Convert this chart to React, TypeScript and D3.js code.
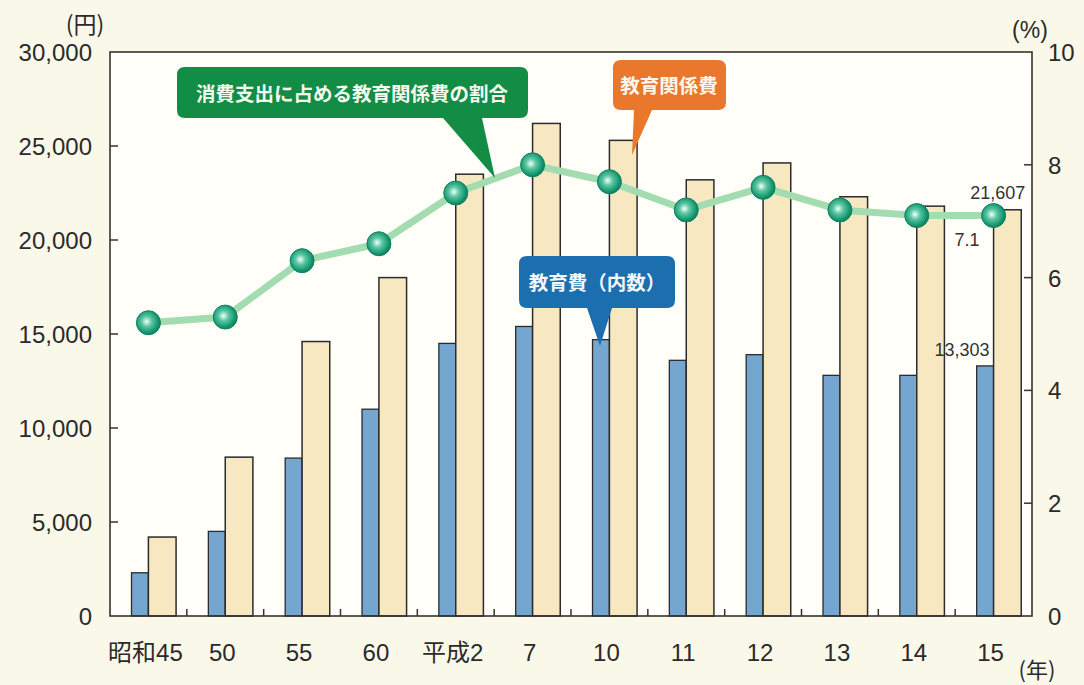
import React from 'react';
import * as d3 from 'd3';

const years = ['昭和45', '50', '55', '60', '平成2', '7', '10', '11', '12', '13', '14', '15'];
const kyoikuhi = [2300, 4500, 8400, 11000, 14500, 15400, 14700, 13600, 13900, 12800, 12800, 13303];
const kyoikuKankeihi = [4200, 8450, 14600, 18000, 23500, 26200, 25300, 23200, 24100, 22300, 21800, 21607];
const ratio = [5.2, 5.3, 6.3, 6.6, 7.5, 8.0, 7.7, 7.2, 7.6, 7.2, 7.1, 7.1];
const yenTicks = [0, 5000, 10000, 15000, 20000, 25000, 30000];
const pctTicks = [0, 2, 4, 6, 8, 10];

const W = 1084;
const H = 685;
const left = 110;
const right = 1032;
const top = 52;
const bottom = 616;

const sans = '"Liberation Sans", Arial, "Noto Sans CJK JP", sans-serif';
const cjk = '"Noto Sans CJK JP", sans-serif';

const App: React.FC = () => {
  const x = d3.scaleBand<string>().domain(years).range([left, right]).padding(0);
  const y = d3.scaleLinear().domain([0, 30000]).range([bottom, top]);
  const y2 = d3.scaleLinear().domain([0, 10]).range([bottom, top]);
  const bw = x.bandwidth();
  const cx = (i: number) => (x(years[i]) as number) + bw / 2;
  const blueW = bw * 0.22;
  const yellowW = bw * 0.36;

  const line = d3.line<number>()
    .x((_, i) => cx(i))
    .y(d => y2(d))
    .curve(d3.curveLinear);

  const last = years.length - 1;

  return (
    <svg width={W} height={H} style={{ position: 'absolute', left: 0, top: 0, display: 'block' }}>
      <defs>
        <radialGradient id="dot" cx="45%" cy="45%" r="60%" fx="42%" fy="45%">
          <stop offset="0%" stopColor="#f4fff9" />
          <stop offset="35%" stopColor="#5cc7a4" />
          <stop offset="80%" stopColor="#11926b" />
          <stop offset="100%" stopColor="#0b7a58" />
        </radialGradient>
      </defs>
      <rect x={0} y={0} width={W} height={H} fill="#faf8e9" />
      <rect x={left} y={top} width={right - left} height={bottom - top} fill="#fffef9" />

      {/* bars */}
      {years.map((yr, i) => (
        <g key={yr}>
          <rect x={cx(i) - blueW} y={y(kyoikuhi[i])} width={blueW} height={bottom - y(kyoikuhi[i])}
            fill="#74a6cf" stroke="#2b2b2b" strokeWidth={1.3} />
          <rect x={cx(i)} y={y(kyoikuKankeihi[i])} width={yellowW} height={bottom - y(kyoikuKankeihi[i])}
            fill="#f7e8c2" stroke="#2b2b2b" strokeWidth={1.5} />
        </g>
      ))}

      {/* frame */}
      <rect x={left} y={top} width={right - left} height={bottom - top} fill="none" stroke="#333" strokeWidth={1.6} />

      {/* left ticks */}
      {yenTicks.map(t => (
        <g key={'l' + t}>
          {t > 0 && t < 30000 && <line x1={left} x2={left + 8} y1={y(t)} y2={y(t)} stroke="#333" strokeWidth={1.5} />}
          <text x={92} y={y(t) + 9} textAnchor="end" fontFamily={sans} fontSize={24} fill="#2a2a2a">
            {d3.format(',')(t)}
          </text>
        </g>
      ))}
      {/* right ticks */}
      {pctTicks.map(t => (
        <g key={'r' + t}>
          {t > 0 && t < 10 && <line x1={right - 8} x2={right} y1={y2(t)} y2={y2(t)} stroke="#333" strokeWidth={1.5} />}
          <text x={1048} y={y2(t) + 9} textAnchor="start" fontFamily={sans} fontSize={24} fill="#2a2a2a">
            {t}
          </text>
        </g>
      ))}
      {/* bottom ticks */}
      {years.slice(1).map(yr => (
        <line key={'b' + yr} x1={x(yr) as number} x2={x(yr) as number} y1={bottom} y2={bottom - 7} stroke="#333" strokeWidth={1.5} />
      ))}
      {years.map((yr, i) => (
        <text key={'xl' + yr} x={cx(i) - 3} y={661} textAnchor="middle" fontFamily={sans} fontSize={24} fill="#2a2a2a">
          {yr}
        </text>
      ))}

      <text x={85} y={33} textAnchor="middle" fontFamily={cjk} fontSize={23} fill="#2a2a2a">(円)</text>
      <text x={1030} y={38} textAnchor="middle" fontFamily={sans} fontSize={23} fill="#2a2a2a">(%)</text>
      <text x={1037} y={678} textAnchor="middle" fontFamily={cjk} fontSize={22} fill="#2a2a2a">(年)</text>

      {/* ratio line */}
      <path d={line(ratio) || ''} fill="none" stroke="#a3dcb0" strokeWidth={7} strokeLinejoin="round" />
      {ratio.map((v, i) => (
        <circle key={'d' + i} cx={cx(i)} cy={y2(v)} r={12} fill="url(#dot)" stroke="#0d8060" strokeWidth={1} />
      ))}

      {/* value labels */}
      <text x={cx(last) + yellowW + 4} y={y(kyoikuKankeihi[last]) - 11} textAnchor="end"
        fontFamily={'"Liberation Sans Narrow", ' + sans} fontSize={18} fill="#333">
        {d3.format(',')(kyoikuKankeihi[last])}
      </text>
      <text x={cx(last) - 14} y={y2(ratio[last]) + 30} textAnchor="end"
        fontFamily={'"Liberation Sans Narrow", ' + sans} fontSize={18} fill="#333">
        {ratio[last].toFixed(1)}
      </text>
      <text x={cx(last) - 4} y={y(kyoikuhi[last]) - 10} textAnchor="end"
        fontFamily={'"Liberation Sans Narrow", ' + sans} fontSize={18} fill="#333">
        {d3.format(',')(kyoikuhi[last])}
      </text>

      {/* callouts */}
      <g>
        <path d="M 185 67 H 520 Q 528 67 528 75 V 110 Q 528 118 520 118 H 482 L 495 178 L 443 118 H 185 Q 177 118 177 110 V 75 Q 177 67 185 67 Z"
          fill="#138c45" />
        <text x={352} y={101} textAnchor="middle" fontFamily={cjk} fontWeight="bold" fontSize={19.5} fill="#f4fbef">
          消費支出に占める教育関係費の割合
        </text>
      </g>
      <g>
        <path d="M 621 60 H 718 Q 726 60 726 68 V 102 Q 726 110 718 110 H 652 L 632 155 L 634 110 H 621 Q 613 110 613 102 V 68 Q 613 60 621 60 Z"
          fill="#e9782c" />
        <text x={669} y={93} textAnchor="middle" fontFamily={cjk} fontWeight="bold" fontSize={19.5} fill="#fff7ee">
          教育関係費
        </text>
      </g>
      <g>
        <path d="M 527 256 H 667 Q 675 256 675 264 V 300 Q 675 308 667 308 H 612 L 600 346 L 587 308 H 527 Q 519 308 519 300 V 264 Q 519 256 527 256 Z"
          fill="#1c6fae" />
        <text x={597} y={290} textAnchor="middle" fontFamily={cjk} fontWeight="bold" fontSize={19.5} fill="#f2f8fc">
          教育費（内数）
        </text>
      </g>
    </svg>
  );
};

export default App;
